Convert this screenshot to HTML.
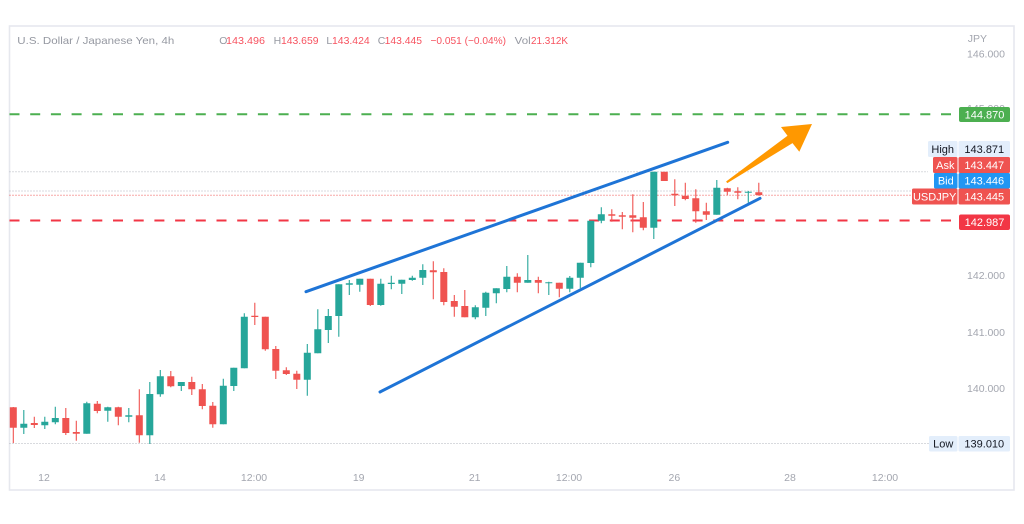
<!DOCTYPE html>
<html><head><meta charset="utf-8"><style>
html,body{margin:0;padding:0;background:#fff;}
svg{display:block;}
text{font-family:"Liberation Sans",Arial,sans-serif;}
</style></head><body>
<svg width="1024" height="524" viewBox="0 0 1024 524" xmlns="http://www.w3.org/2000/svg">
<rect x="0" y="0" width="1024" height="524" fill="#fff"/>
<rect x="9.5" y="26" width="1004.5" height="464" fill="none" stroke="#e6e8ee" stroke-width="1.6"/>

<!-- horizontal lines -->
<line x1="9.5" y1="114.3" x2="958" y2="114.3" stroke="#4caf50" stroke-width="2" stroke-dasharray="10 10.7"/>
<line x1="9.5" y1="220.5" x2="958" y2="220.5" stroke="#f23645" stroke-width="2" stroke-dasharray="10 10.7"/>
<line x1="9.5" y1="171.7" x2="928" y2="171.7" stroke="#b2b5be" stroke-width="1" stroke-dasharray="1 2"/>
<line x1="9.5" y1="191" x2="933" y2="191" stroke="#b2b5be" stroke-width="1" stroke-dasharray="1 2"/>
<line x1="9.5" y1="195.3" x2="912" y2="195.3" stroke="#ef5350" stroke-width="1" stroke-dasharray="1 2"/>
<line x1="9.5" y1="443.5" x2="929" y2="443.5" stroke="#b2b5be" stroke-width="1" stroke-dasharray="1 2"/>

<!-- candles green -->
<path fill="none" stroke="#26a69a" stroke-width="1.1" d="M23.8 410V434M44.8 416.7V429M55.3 406.7V424.3M86.8 401.7V433.7M107.8 406.7V421.7M128.8 408V422.3M149.8 382V444M160.3 370V396.7M181.3 382V391M223.3 378.7V424.3M233.8 367.7V391M244.3 313.3V368.3M307.3 344V395.7M317.8 309.3V353.3M328.3 309V343M338.8 284.3V336.7M349.3 280V295M359.8 278.7V291.7M380.8 278.7V305.7M391.3 275.7V289.3M401.8 279.7V294M412.3 275.7V280.7M422.8 264.3V285M475.3 305.3V319.3M485.8 291.7V316M496.3 288.3V303.3M506.8 266V292.3M527.8 255V282.7M548.8 281.7V295M569.8 276V292.3M580.3 262.7V288.3M590.8 220.7V267.3M601.3 207.3V223.3M653.8 171.7V239M716.8 180V214.7M748.3 191V202.7"/>
<path fill="#26a69a" d="M20.3 423.7h7v4h-7zM41.3 421.7h7v3.6h-7zM51.8 418h7v4.3h-7zM83.3 403.3h7v30.4h-7zM104.3 407.3h7v3.4h-7zM125.3 415.3h7v1.4h-7zM146.3 394h7v41.3h-7zM156.8 376.3h7v18h-7zM177.8 382h7v4h-7zM219.8 385.7h7v38.6h-7zM230.3 367.7h7v18.3h-7zM240.8 316.7h7v51.6h-7zM303.8 352.7h7v27h-7zM314.3 329.3h7v24h-7zM324.8 316h7v14h-7zM335.3 284.3h7v31.7h-7zM345.8 283.3h7v1.4h-7zM356.3 278.7h7v6h-7zM377.3 283.7h7v21.3h-7zM387.8 282.7h7v1.3h-7zM398.3 279.7h7v4h-7zM408.8 277.7h7v2.3h-7zM419.3 270h7v7.7h-7zM471.8 307.3h7v10h-7zM482.3 292.7h7v15h-7zM492.8 288.3h7v5h-7zM503.3 276.7h7v12.3h-7zM524.3 280h7v2.7h-7zM545.3 282.3h7v1h-7zM566.3 277.7h7v11h-7zM576.8 262.7h7v15h-7zM587.3 220.7h7v42.3h-7zM597.8 214.3h7v6.4h-7zM650.3 171.7h7v56h-7zM713.3 187.7h7v27h-7zM744.8 191.7h7v1h-7z"/>

<!-- candles red -->
<path fill="none" stroke="#ef5350" stroke-width="1.1" d="M13.3 407V443M34.3 416.7V428M65.8 408V435M76.3 420.7V440.7M97.3 401V413.3M118.3 406.7V425.3M139.3 389.3V442.7M170.8 371V387.3M191.8 376.7V395M202.3 384V409.3M212.8 402V427.7M254.8 302.7V325M265.3 316.7V350.7M275.8 346V379M286.3 367.3V375M296.8 370.7V389M370.3 278.7V306M433.3 261.3V299.3M443.8 268.3V305.3M454.3 295V316.7M464.8 290V317.3M517.3 273.3V292.3M538.3 276.7V293.3M559.3 282.7V297.3M611.8 209.3V221.7M622.3 212V229.3M632.8 194.3V232.3M643.3 202V230.3M674.8 179.3V206M685.3 182.7V200.3M695.8 189.3V222.7M706.3 202.7V220M727.3 187.7V195.3M737.8 187.3V199.3M758.8 182.7V195.7"/>
<path fill="#ef5350" d="M9.8 407.3h7v20.4h-7zM30.8 423h7v2h-7zM62.3 418h7v15h-7zM72.8 432h7v1.7h-7zM93.8 403.7h7v7.3h-7zM114.8 407.3h7v9.4h-7zM135.8 415.3h7v20h-7zM167.3 376.3h7v10h-7zM188.3 382h7v7.3h-7zM198.8 389.3h7v16.7h-7zM209.3 405.7h7v18.6h-7zM251.3 315.7h7v1.3h-7zM261.8 316.7h7v32.6h-7zM272.3 349h7v21.7h-7zM282.8 370.3h7v3.7h-7zM293.3 373.7h7v6h-7zM366.8 278.7h7v26.3h-7zM429.8 270.3h7v2h-7zM440.3 272h7v30h-7zM450.8 301h7v5.7h-7zM461.3 306h7v11.3h-7zM513.8 276.7h7v6h-7zM534.8 280h7v2.7h-7zM555.8 282.7h7v6h-7zM608.3 214.3h7v1.4h-7zM618.8 215.3h7v1.4h-7zM629.3 215.3h7v2.4h-7zM639.8 217.3h7v10.4h-7zM660.8 171.7h7v9.3h-7zM671.3 193.7h7v1.6h-7zM681.8 195.7h7v3.3h-7zM692.3 198.3h7v13h-7zM702.8 211.3h7v3.4h-7zM723.8 188.3h7v3.4h-7zM734.3 191.3h7v1.4h-7zM755.3 192.3h7v2.7h-7z"/>

<!-- trend lines -->
<line x1="306" y1="291.7" x2="727.7" y2="142.3" stroke="#1e74d6" stroke-width="3" stroke-linecap="round"/>
<line x1="380" y1="392" x2="760" y2="198.3" stroke="#1e74d6" stroke-width="3" stroke-linecap="round"/>

<!-- arrow -->
<polygon points="726.1,181.5 787.5,135.7 781,127 812,124 799.3,151.7 792.5,143.1 727.3,183.1" fill="#ff9800"/>

<!-- header -->
<g font-size="10.5">
<text x="17.3" y="44" fill="#9598a1" textLength="157" lengthAdjust="spacingAndGlyphs">U.S. Dollar / Japanese Yen, 4h</text>
<text x="219.3" y="44" fill="#9598a1">O</text>
<text x="226" y="44" fill="#f7525f" textLength="39" lengthAdjust="spacingAndGlyphs">143.496</text>
<text x="273.6" y="44" fill="#9598a1">H</text>
<text x="281" y="44" fill="#f7525f" textLength="37.5" lengthAdjust="spacingAndGlyphs">143.659</text>
<text x="326.4" y="44" fill="#9598a1">L</text>
<text x="332" y="44" fill="#f7525f" textLength="37.7" lengthAdjust="spacingAndGlyphs">143.424</text>
<text x="377.7" y="44" fill="#9598a1">C</text>
<text x="384.6" y="44" fill="#f7525f" textLength="37.4" lengthAdjust="spacingAndGlyphs">143.445</text>
<text x="430.5" y="44" fill="#f7525f" textLength="75.5" lengthAdjust="spacingAndGlyphs">−0.051 (−0.04%)</text>
<text x="514.7" y="44" fill="#9598a1" textLength="16" lengthAdjust="spacingAndGlyphs">Vol</text>
<text x="531" y="44" fill="#f7525f" textLength="37" lengthAdjust="spacingAndGlyphs">21.312K</text>
</g>

<!-- price axis -->
<g font-size="10.5" fill="#a3a6af" text-anchor="end">
<text x="987" y="42">JPY</text>
<text x="1005" y="57.3" textLength="38" lengthAdjust="spacingAndGlyphs">146.000</text>
<text x="1005" y="112" textLength="38" lengthAdjust="spacingAndGlyphs">145.000</text>
<text x="1005" y="279.2" textLength="38" lengthAdjust="spacingAndGlyphs">142.000</text>
<text x="1005" y="336" textLength="38" lengthAdjust="spacingAndGlyphs">141.000</text>
<text x="1005" y="391.8" textLength="38" lengthAdjust="spacingAndGlyphs">140.000</text>
</g>

<!-- labels -->
<g font-size="11" text-anchor="middle">
<rect x="959" y="107" width="51" height="15" rx="2" fill="#4caf50"/>
<text x="984.5" y="118.5" fill="#fff">144.870</text>

<rect x="928" y="141" width="29.5" height="16" rx="1.5" fill="#e3eefb"/>
<rect x="958.5" y="141" width="51.5" height="16" rx="1.5" fill="#e3eefb"/>
<text x="942.7" y="153" fill="#131722">High</text>
<text x="984.3" y="153" fill="#131722">143.871</text>

<rect x="933" y="157" width="24.5" height="16" rx="1.5" fill="#ef5350"/>
<rect x="958.5" y="157" width="51.5" height="16" rx="1.5" fill="#ef5350"/>
<text x="945.3" y="169" fill="#fff">Ask</text>
<text x="984.3" y="169" fill="#fff">143.447</text>

<rect x="934" y="173" width="23.5" height="15.5" rx="1.5" fill="#2196f3"/>
<rect x="958.5" y="173" width="51.5" height="15.5" rx="1.5" fill="#2196f3"/>
<text x="945.8" y="184.7" fill="#fff">Bid</text>
<text x="984.3" y="184.7" fill="#fff">143.446</text>

<rect x="912" y="188.5" width="45.5" height="16" rx="1.5" fill="#ef5350"/>
<rect x="958.5" y="188.5" width="51.5" height="16" rx="1.5" fill="#ef5350"/>
<text x="934.7" y="200.5" fill="#fff">USDJPY</text>
<text x="984.3" y="200.5" fill="#fff">143.445</text>

<rect x="959" y="214.5" width="51" height="15.5" rx="2" fill="#f23645"/>
<text x="984.5" y="226.2" fill="#fff">142.987</text>

<rect x="929" y="436" width="28.5" height="15.5" rx="1.5" fill="#e3eefb"/>
<rect x="958.5" y="436" width="51.5" height="15.5" rx="1.5" fill="#e3eefb"/>
<text x="943.2" y="447.7" fill="#131722">Low</text>
<text x="984.3" y="447.7" fill="#131722">139.010</text>
</g>

<!-- time axis -->
<g font-size="10.5" fill="#a3a6af" text-anchor="middle">
<text x="44" y="481">12</text>
<text x="160" y="481">14</text>
<text x="254" y="481">12:00</text>
<text x="358.7" y="481">19</text>
<text x="474.7" y="481">21</text>
<text x="569" y="481">12:00</text>
<text x="674.4" y="481">26</text>
<text x="790" y="481">28</text>
<text x="885" y="481">12:00</text>
</g>
</svg>
</body></html>
